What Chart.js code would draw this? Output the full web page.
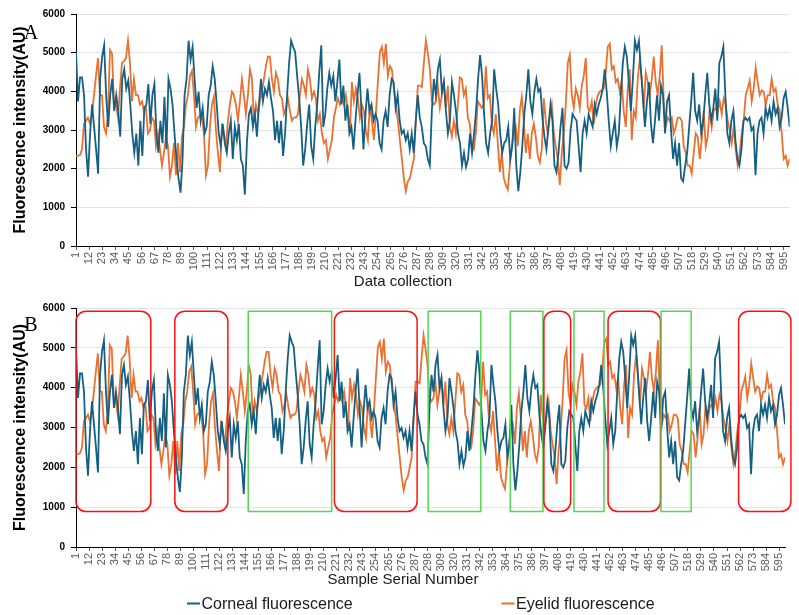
<!DOCTYPE html>
<html>
<head>
<meta charset="utf-8">
<title>Corneal vs eyelid fluorescence</title>
<script src="https://cdn.jsdelivr.net/npm/chart.js@4.4.1/dist/chart.umd.min.js"></script>
<style>
  html, body { margin: 0; padding: 0; background: #fff; }
  #wrap { position: relative; width: 799px; height: 615px; overflow: hidden; }
  #chartA { position: absolute; left: 0; top: 0; }
  #chartB { position: absolute; left: 0; top: 296px; }
</style>
</head>
<body>
<div id="wrap">
  <canvas id="chartA" width="799" height="297"></canvas>
  <canvas id="chartB" width="799" height="319"></canvas>
</div>
<script>
// valores (muestras 1..600, una lectura cada ~1.7 muestras)
const cornealValues = [
  5020,3740,4360,4360,3900,2500,1790,2910,3660,3080,
  2500,1870,4320,4900,5190,3900,3080,3900,4320,3490,
  3900,3490,2830,4320,4570,4070,4280,3660,2910,2410,
  2910,2080,3240,2330,3570,3660,4190,3160,3900,4190,
  2910,2410,3240,2660,3860,2500,4320,4070,3660,2910,
  2250,1750,1380,2250,3900,4320,5310,4820,5150,4320,
  3570,3990,3240,3570,2910,3080,3900,4150,4650,4320,
  3660,2910,2580,3160,2660,2410,2910,3240,2250,3080,
  2740,3160,2250,2080,1330,2660,3410,3570,3080,3410,
  2830,3660,4320,3740,4070,3900,4240,3820,3490,2740,
  3240,2660,3240,2330,2910,3900,4730,5310,5150,5020,
  4400,3820,3080,2080,2500,3160,3660,2580,2250,3080,
  3660,4480,5190,3080,3410,4070,4480,4150,4400,3740,
  4240,4820,3660,4150,3240,3660,2910,3080,2500,3240,
  3900,4480,3490,2500,3410,4070,3490,3660,3240,3410,
  3240,2660,2500,3240,3490,3080,3900,4320,
  4240,3570,3900,3240,2910,2990,2740,2910,2500,2910,
  2410,3240,3900,3320,3080,2660,2580,2250,2080,3490,
  4320,3900,4570,4820,3990,4240,3490,2910,3240,4240,
  3900,3490,2910,2660,2080,2410,2040,2250,2910,2410,
  2910,3490,4320,4940,4400,3410,2660,2410,2910,3240,
  4570,4070,3660,2910,2410,2660,2740,3080,2250,2580,
  3570,2080,1420,1910,2580,3410,3900,4570,3740,3410,
  3990,4320,3990,4070,3320,2830,2500,3080,3660,3240,
  2080,1910,2410,3080,3570,2080,2000,2160,2990,3410,
  3320,3240,2580,1910,2910,3240,2910,3410,3240,3080,
  3660,3410,3660,3820,4070,4570,3990,3240,2580,2910,
  3240,2580,2910,3900,4730,5150,4900,4240,3490,4320,
  5310,5070,5310,4570,3820,3080,3740,4240,3160,2660,
  3240,3900,3240,4150,3900,2910,3740,3900,2990,2250,
  2660,2080,2660,1750,1670,2080,2410,3080,3740,4480,
  3490,3240,3660,2910,3240,3900,4480,3660,3240,3570,
  4070,3240,4730,4900,5150,3900,2910,2660,3240,3490,
  2740,2250,2080,2500,3240,3320,3240,3320,2990,3080,
  1830,2910,3240,3320,2910,3570,3320,3570,3240,3740,
  3410,3570,3080,3320,3820,3990,3570,3080
];

const eyelidValues = [
  2330,2330,2350,2500,3160,3240,3320,3160,3410,3900,
  4400,4860,3900,3900,3080,2910,3410,5070,4980,3740,
  3660,3320,4070,4730,4780,4860,5310,4730,3740,4320,
  3900,3900,3660,3740,3490,3570,2910,2990,3320,3240,
  2580,2910,2500,2080,2410,2830,2580,1790,2080,2660,
  1830,2660,1910,2830,3080,3660,3900,4400,4530,3900,
  3080,3320,3370,3320,2910,1830,2080,3080,3660,3860,
  2990,2410,1910,3080,2910,2580,3240,3660,3990,3900,
  3660,3240,3740,4320,3900,3410,3900,4570,4320,3240,
  3660,3410,3740,3990,4320,4650,4900,4900,4320,3990,
  4480,4320,3900,3820,3410,3570,3820,3490,3240,3320,
  3320,3410,3900,4320,4150,3900,4570,4320,3820,3990,
  3820,3240,3410,2910,2660,2740,2250,2500,2740,3320,
  3570,3820,3660,3820,3660,3900,3490,2910,4240,3740,
  4070,3820,3320,3660,3490,2990,2740,3660,3240,2740,
  3410,4240,5020,5150,4730,5230,4400,4650,4570,4070,
  3660,3240,2740,2250,
  1750,1420,1670,1750,2000,2250,3240,4150,4150,4110,
  4730,5310,4980,4570,3740,3660,3740,4150,3570,3900,
  4240,3570,4150,3080,2830,3240,2910,3660,4360,4320,
  3900,4070,3320,3160,2580,2500,2910,3740,3660,3570,
  3660,4650,3820,3900,3160,2910,3410,2660,1910,2410,
  1750,1580,1460,2080,2580,2910,3080,2580,3490,3860,
  3240,2410,2910,2250,2910,3160,2830,2330,2160,2500,
  3820,3240,2910,3320,3660,2910,2580,2250,1580,2410,
  2910,3660,4730,4940,3900,3570,4070,3900,3570,4150,
  4400,4860,3570,3490,3740,3160,3660,3900,3990,4030,
  4070,4480,5150,5230,4570,4650,4240,4320,3990,4240,
  3490,3080,4070,4570,2740,3490,3320,4320,4820,4320,
  3570,4480,4240,3900,4320,4900,4240,3900,4400,5190,
  3740,3080,3320,3240,3320,2910,3080,3320,3320,3240,
  2580,2410,2080,2080,1870,2410,2910,2830,2250,2740,
  3490,2580,2830,3570,3080,3490,3570,3490,3740,3410,
  3820,3660,3240,2990,2660,3080,2500,2080,2410,2910,
  3240,3900,4070,4280,3740,4070,4610,4240,3900,4030,
  3990,3660,3900,3900,4320,3990,4070,3660,3490,2910,
  2250,2330,2080,2250
];

const xTickLabels = [1,12,23,34,45,56,67,78,89,100,111,122,133,144,155,166,177,188,199,210,
  221,232,243,254,265,276,287,298,309,320,331,342,353,364,375,386,397,408,419,430,
  441,452,463,474,485,496,507,518,529,540,551,562,573,584,595];
const yTickValues = [0,1000,2000,3000,4000,5000,6000];

const seriesNames = ['Corneal fluorescence', 'Eyelid fluorescence'];
const seriesColors = ['#156082', '#E97132'];

// recuadros del panel B (en numero de muestra)
const boxRanges = [
  [1, 64.2, 'red'], [84.5, 129.3, 'red'], [146.5, 217, 'green'], [219.3, 289.2, 'red'],
  [298.5, 343, 'green'], [367.9, 395.5, 'green'], [396.3, 418.9, 'red'], [421.7, 447.1, 'green'],
  [450.5, 494.8, 'red'], [495.3, 520.7, 'green'], [560.8, 605, 'red']
];
const boxValueRange = [890, 5920];

function toPoints(values) {
  const n = values.length;
  return values.map((v, k) => ({ x: 1 + k * 599 / (n - 1), y: v }));
}

const panelExtras = {
  id: 'panelExtras',
  afterDatasetsDraw(chart, args, opts) {
    if (!opts.boxes) return;
    const ctx = chart.ctx;
    const xs = chart.scales.x, ys = chart.scales.y;
    const y0 = ys.getPixelForValue(boxValueRange[1]);
    const y1 = ys.getPixelForValue(boxValueRange[0]);
    boxRanges.forEach(b => {
      const x0 = xs.getPixelForValue(b[0]);
      const x1 = xs.getPixelForValue(b[1]);
      ctx.save();
      ctx.lineWidth = 1.5;
      ctx.beginPath();
      if (b[2] === 'red') {
        ctx.strokeStyle = '#ff1010';
        ctx.roundRect(x0, y0, x1 - x0, y1 - y0, 10);
      } else {
        ctx.strokeStyle = '#52d852';
        ctx.rect(x0, y0, x1 - x0, y1 - y0);
      }
      ctx.stroke();
      ctx.restore();
    });
  },
  afterDraw(chart, args, opts) {
    const ctx = chart.ctx;
    ctx.save();
    // letra del panel
    ctx.fillStyle = '#000';
    ctx.font = '20px "Liberation Serif"';
    ctx.textAlign = 'center';
    ctx.textBaseline = 'alphabetic';
    ctx.fillText(opts.letter, 31, opts.letterY);
    // titulo eje x
    ctx.font = '15px "Liberation Sans"';
    ctx.fillStyle = '#1a1a1a';
    ctx.fillText(opts.xTitle, 403, opts.xTitleY);
    // leyenda
    if (opts.legend) {
      const items = [[187, 201.5], [501.5, 516]];
      ctx.font = '16px "Liberation Sans"';
      ctx.textAlign = 'left';
      items.forEach((it, i) => {
        ctx.strokeStyle = seriesColors[i];
        ctx.lineWidth = 2;
        ctx.beginPath();
        ctx.moveTo(it[0], 307.5);
        ctx.lineTo(it[0] + 13, 307.5);
        ctx.stroke();
        ctx.fillStyle = '#1a1a1a';
        ctx.fillText(seriesNames[i], it[1], 312.5);
      });
    }
    ctx.restore();
  }
};

function makeChart(canvasId, p) {
  return new Chart(document.getElementById(canvasId), {
    type: 'line',
    data: {
      datasets: [
        { label: seriesNames[0], data: toPoints(cornealValues), borderColor: seriesColors[0], borderWidth: 1.8, pointRadius: 0, tension: 0 },
        { label: seriesNames[1], data: toPoints(eyelidValues), borderColor: seriesColors[1], borderWidth: 1.8, pointRadius: 0, tension: 0 }
      ]
    },
    options: {
      responsive: false,
      animation: false,
      layout: { padding: { top: p.padTop, right: p.padRight, bottom: p.padBottom, left: 0 } },
      plugins: { legend: { display: false }, tooltip: { enabled: false }, panelExtras: p.extras },
      scales: {
        x: {
          type: 'linear', min: 1, max: 600,
          afterBuildTicks: s => { s.ticks = xTickLabels.map(v => ({ value: v })); },
          afterFit: s => { s.height = 30; },
          ticks: { autoSkip: false, minRotation: 90, maxRotation: 90, padding: 2, color: '#595959',
                   font: { family: 'Liberation Sans', size: 11 }, callback: v => String(v) },
          grid: { display: true, drawOnChartArea: false, drawTicks: true, tickLength: 4, color: '#595959' },
          border: { display: true, color: '#000', width: 1 }
        },
        y: {
          min: 0, max: 6000,
          afterBuildTicks: s => { s.ticks = yTickValues.map(v => ({ value: v })); },
          afterFit: s => { s.width = 76; },
          ticks: { padding: 6, color: '#000', font: { family: 'Liberation Sans', size: 10, weight: 'bold' }, callback: v => String(v) },
          grid: { color: '#e4e4e4', tickColor: '#000', tickLength: 5 },
          border: { display: true, color: '#000', width: 1 },
          title: { display: true, text: 'Fluorescence intensity(AU)', padding: { top: 11, bottom: 0 }, color: '#000',
                   font: { family: 'Liberation Sans', size: 16, weight: 'bold' } }
        }
      }
    },
    plugins: [panelExtras]
  });
}

makeChart('chartA', { padTop: 14, padRight: 9, padBottom: 21,
  extras: { letter: 'A', letterY: 39, xTitle: 'Data collection', xTitleY: 286, legend: false, boxes: false } });
makeChart('chartB', { padTop: 10, padRight: 14, padBottom: 38,
  extras: { letter: 'B', letterY: 35, xTitle: 'Sample Serial Number', xTitleY: 288, legend: true, boxes: true } });
</script>
</body>
</html>
